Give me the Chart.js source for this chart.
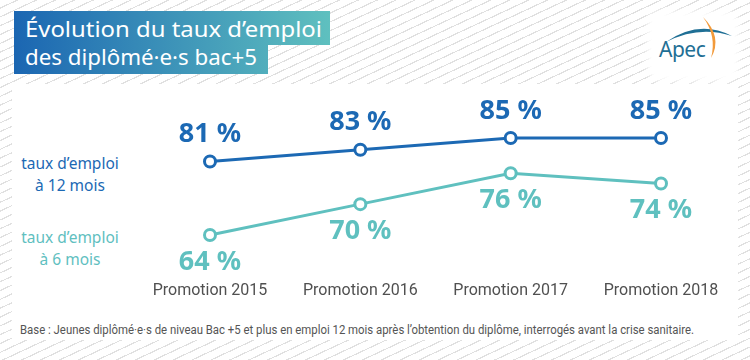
<!DOCTYPE html>
<html><head><meta charset="utf-8">
<script src="https://cdn.jsdelivr.net/npm/chart.js@4.4.1/dist/chart.umd.min.js"></script>
<style>
html,body{margin:0;padding:0;}
body{width:750px;height:360px;position:relative;overflow:hidden;
 background:repeating-linear-gradient(155deg,#fff 0px,#fff 6.8px,#e0e0e0 6.8px,#e0e0e0 8px);
 font-family:"Noto Sans",sans-serif;}
#panel{position:absolute;left:12px;top:84px;width:726px;height:256px;background:#fff;}
#logoBox{position:absolute;left:652px;top:16px;width:82px;height:60px;background:#fff;border-radius:8px;box-shadow:0 0 6px 5px #fff;}
.tbox{position:absolute;left:14px;color:#fff;font-size:22px;white-space:nowrap;box-sizing:border-box;padding-left:11px;
 background:linear-gradient(90deg,#1b66b2 0px,#5fc0bf 316px);background-size:316px 100%;background-repeat:no-repeat;}
.tbox span{display:inline-block;transform-origin:0 50%;}
#t1{top:11px;width:316px;height:34px;line-height:34px;}
#t2{top:45px;width:254px;height:29px;line-height:23px;}
.slab{position:absolute;width:150px;left:-5px;text-align:center;font-size:15.5px;line-height:22px;}
#s1{top:152px;color:#1c69b4;}
#s2{top:226px;color:#5fc0bf;}
#wrap{position:absolute;left:130px;top:90px;width:610px;height:210px;}
#foot{position:absolute;left:20px;top:322px;font-family:Roboto,sans-serif;font-size:12px;color:#555;white-space:nowrap;transform-origin:0 0;line-height:16px;}
svg{position:absolute;left:0;top:0;}
</style></head>
<body>
<div id="panel"></div>
<div id="logoBox"></div>
<div class="tbox" id="t1"><span data-w="297">Évolution du taux d’emploi</span></div>
<div class="tbox" id="t2"><span data-w="232">des diplômé·e·s bac+5</span></div>
<svg width="750" height="360" viewBox="0 0 750 360">
  <path d="M666 42 Q699 19 732 36 Q699 25 666 42 Z" fill="#1f6f95"/>
  <path d="M703 17 Q723 37 711 58 Q717 36 703 17 Z" fill="#f29a3a"/>
  <text x="659" y="57" font-family="Noto Sans" font-size="21" fill="#1f6f95" letter-spacing="-0.5">Apec</text>
</svg>
<div class="slab" id="s1">taux d’emploi<br>à 12 mois</div>
<div class="slab" id="s2">taux d’emploi<br>à 6 mois</div>
<div id="wrap"><canvas id="c" width="610" height="210"></canvas></div>
<div id="foot">Base : Jeunes diplômé·e·s de niveau Bac +5 et plus en emploi 12 mois après l’obtention du diplôme, interrogés avant la crise sanitaire.</div>
<script>
const categories = ["Promotion 2015","Promotion 2016","Promotion 2017","Promotion 2018"];
const seriesNames = ["taux d’emploi à 12 mois","taux d’emploi à 6 mois"];
const rate12 = [81,83,85,85];
const rate6 = [64,70,76,74];

const BLUE = "#1c69b4", TEAL = "#5fc0bf";

// fit texts to the reference widths
(function(){
  const f=document.getElementById('foot');const w=f.getBoundingClientRect().width;f.style.transform='scaleX('+(674/w)+')';
  document.querySelectorAll('.tbox span').forEach(s=>{const ww=s.getBoundingClientRect().width;s.style.transform='scaleX('+(+s.dataset.w/ww)+')';});
})();

const valueLabels = {
  id:'valueLabels',
  afterDatasetsDraw(chart){
    const ctx = chart.ctx;
    chart.data.datasets.forEach((ds,i)=>{
      const meta = chart.getDatasetMeta(i);
      const dir = ds.labelDir;
      meta.data.forEach((pt,j)=>{
        ctx.save();
        ctx.font = "bold 27px 'Noto Sans'";
        ctx.fillStyle = ds.borderColor;
        ctx.textAlign = 'center';
        ctx.textBaseline = 'middle';
        ctx.fillText(ds.data[j] + " %", pt.x, pt.y + dir*27);
        ctx.restore();
      });
    });
  }
};

new Chart(document.getElementById('c'), {
  type:'line',
  data:{
    labels: categories,
    datasets:[
      {label:seriesNames[0], data:rate12, yAxisID:'y', borderColor:BLUE, backgroundColor:'#fff', borderWidth:3,
       pointRadius:5.5, pointBorderWidth:3, pointBackgroundColor:'#fff', pointBorderColor:BLUE, clip:false, labelDir:-1, tension:0},
      {label:seriesNames[1], data:rate6, yAxisID:'y2', borderColor:TEAL, backgroundColor:'#fff', borderWidth:3,
       pointRadius:5.5, pointBorderWidth:3, pointBackgroundColor:'#fff', pointBorderColor:TEAL, clip:false, labelDir:1, tension:0}
    ]
  },
  options:{
    responsive:false, animation:false,
    layout:{padding:{left:80,right:79,top:10,bottom:0}},
    plugins:{legend:{display:false}, tooltip:{enabled:false}},
    scales:{
      x:{type:'category', offset:false, grid:{display:false, drawTicks:false}, border:{display:false},
         ticks:{color:'#505050', font:{family:'Roboto', size:16}, padding:5, maxRotation:0, autoSkip:false},
         afterFit(s){ s.height = 24; }},
      y:{display:false, min:61.55, max:91.45},
      y2:{display:false, min:56.06, max:90.2}
    }
  },
  plugins:[valueLabels]
});
</script>
</body></html>
